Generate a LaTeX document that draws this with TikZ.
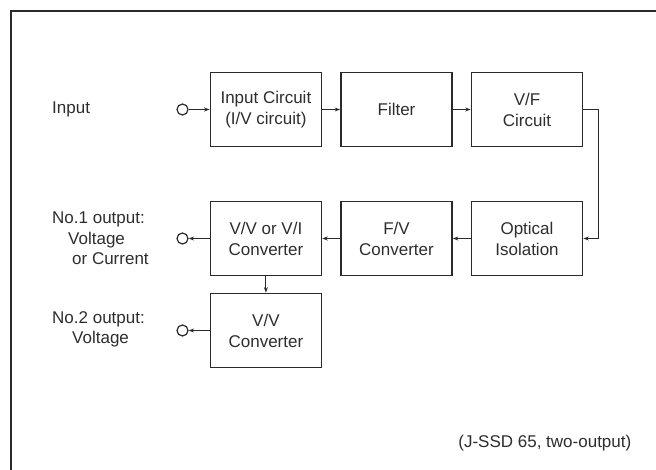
\documentclass[tikz,border=0pt]{standalone}
\usepackage{fontspec}
\setmainfont{Liberation Sans}
\usetikzlibrary{arrows.meta}
\definecolor{ink}{HTML}{2A2A2A}
\definecolor{txt}{HTML}{2E2E2E}
\begin{document}
\begin{tikzpicture}[x=1pt,y=-1pt,
  blk/.style={draw=ink,line width=1.7pt,minimum width=111pt,minimum height=74pt,inner sep=0pt,align=center,text=txt,font=\fontsize{17}{21}\selectfont},
  lbl/.style={anchor=west,align=left,inner sep=0pt,text=txt,font=\fontsize{17}{20.5}\selectfont},
  term/.style={circle,draw=ink,line width=1.2pt,minimum size=11pt,inner sep=0pt},
  conn/.style={draw=ink,line width=1.1pt,-{Stealth[length=5.5pt,width=4pt]}}]
\useasboundingbox (0,0) rectangle (656,470);
\fill[white] (0,0) rectangle (656,470);
\draw[ink,line width=2pt] (10.5,470) -- (10.5,11.5) -- (656,11.5);
% blocks
\node[blk] (inc) at (265.9,109.5) {Input Circuit\\(I/V circuit)};
\node[blk] (flt) at (396.5,109.5) {Filter};
\node[blk] (vf)  at (527,109.5) {V/F\\Circuit};
\node[blk] (vvi) at (265.9,238.5) {V/V or V/I\\Converter};
\node[blk] (fv)  at (396.5,238.5) {F/V\\Converter};
\node[blk] (opt) at (527,238.5) {Optical\\Isolation};
\node[blk] (vv)  at (265.9,330.5) {V/V\\Converter};
% terminals
\node[term] (tin) at (182.5,109.5) {};
\node[term] (to1) at (182.5,238.5) {};
\node[term] (to2) at (182.5,330.5) {};
% labels
\node[lbl] (lin) at (52,109.5) {Input};
\node[lbl] (lo1) at (52,238.5) {No.1 output:\\\hspace{16pt}Voltage\\\hspace{20pt}or Current};
\node[lbl] (lo2) at (52,329.5) {No.2 output:\\\hspace{20pt}Voltage};
\node[anchor=east,inner sep=0pt,text=txt,font=\fontsize{17}{20.5}\selectfont] (cap) at (631.5,443) {(J-SSD 65, two-output)};
% connectors
\coordinate (c1) at (598.5,109.5);
\coordinate (c2) at (598.5,238.5);
\draw[conn] (tin) -- (inc);
\draw[conn] (inc) -- (flt);
\draw[conn] (flt) -- (vf);
\draw[conn] (vf.east) -- (c1) -- (c2) -- (opt.east);
\draw[conn] (opt) -- (fv);
\draw[conn] (fv) -- (vvi);
\draw[conn] (vvi.west) -- (to1);
\draw[conn] (vvi.south) -- (vv.north);
\draw[conn] (vv.west) -- (to2);
\end{tikzpicture}
\end{document}
